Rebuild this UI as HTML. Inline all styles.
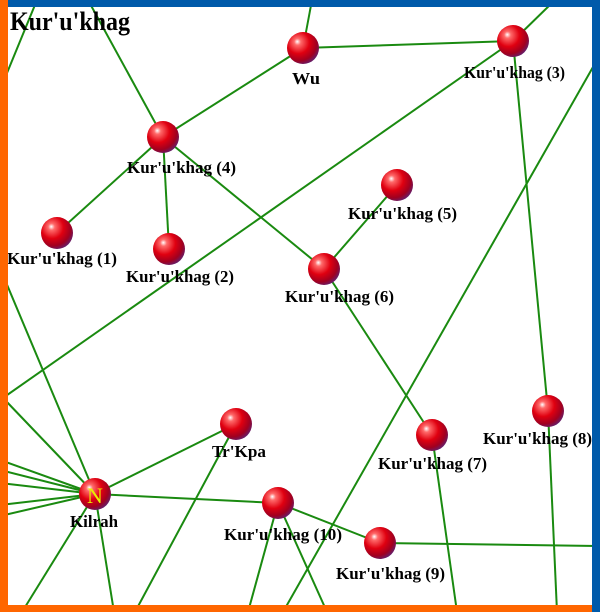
<!DOCTYPE html>
<html><head><meta charset="utf-8"><style>
html,body{margin:0;padding:0;background:#fff}
svg{display:block}
text{font-family:"Liberation Serif",serif;font-size:17px;font-weight:600;fill:#000}
</style></head><body>
<svg width="600" height="612" viewBox="0 0 600 612" xmlns="http://www.w3.org/2000/svg">
<defs>
<radialGradient id="b" cx="0.38" cy="0.35" r="0.7" fx="0.32" fy="0.3">
<stop offset="0" stop-color="#ffffff"/>
<stop offset="0.15" stop-color="#ff6a6a"/>
<stop offset="0.5" stop-color="#e00010"/>
<stop offset="0.8" stop-color="#a00020"/>
<stop offset="1" stop-color="#602070"/>
</radialGradient>
</defs>
<rect width="600" height="612" fill="#fff"/>
<g stroke="#1a8a10" stroke-width="2" fill="none">
<line x1="0" y1="90" x2="37" y2="0"/>
<line x1="88" y1="0" x2="163" y2="137"/>
<line x1="163" y1="137" x2="303" y2="48"/>
<line x1="303" y1="48" x2="513" y2="41"/>
<line x1="303" y1="48" x2="312" y2="0"/>
<line x1="513" y1="41" x2="555" y2="0"/>
<line x1="513" y1="41" x2="548" y2="411"/>
<line x1="0" y1="400" x2="513" y2="41"/>
<line x1="597" y1="60" x2="283" y2="612"/>
<line x1="163" y1="137" x2="57" y2="233"/>
<line x1="163" y1="137" x2="169" y2="249"/>
<line x1="163" y1="137" x2="324" y2="269"/>
<line x1="397" y1="185" x2="324" y2="269"/>
<line x1="324" y1="269" x2="432" y2="435"/>
<line x1="432" y1="435" x2="457" y2="612"/>
<line x1="548" y1="411" x2="557" y2="612"/>
<line x1="0" y1="268" x2="95" y2="494"/>
<line x1="5" y1="400" x2="95" y2="494"/>
<line x1="0" y1="460" x2="95" y2="494"/>
<line x1="0" y1="470" x2="95" y2="494"/>
<line x1="0" y1="483" x2="95" y2="494"/>
<line x1="0" y1="505" x2="95" y2="494"/>
<line x1="0" y1="516" x2="95" y2="494"/>
<line x1="95" y1="494" x2="236" y2="424"/>
<line x1="95" y1="494" x2="278" y2="503"/>
<line x1="95" y1="494" x2="22" y2="612"/>
<line x1="95" y1="494" x2="114" y2="612"/>
<line x1="236" y1="424" x2="135" y2="612"/>
<line x1="278" y1="503" x2="380" y2="543"/>
<line x1="278" y1="503" x2="248" y2="612"/>
<line x1="278" y1="503" x2="327" y2="612"/>
<line x1="380" y1="543" x2="597" y2="546"/>
</g>
<g fill="url(#b)">
<circle cx="303" cy="48" r="16"/>
<circle cx="513" cy="41" r="16"/>
<circle cx="163" cy="137" r="16"/>
<circle cx="57" cy="233" r="16"/>
<circle cx="169" cy="249" r="16"/>
<circle cx="397" cy="185" r="16"/>
<circle cx="324" cy="269" r="16"/>
<circle cx="236" cy="424" r="16"/>
<circle cx="432" cy="435" r="16"/>
<circle cx="548" cy="411" r="16"/>
<circle cx="95" cy="494" r="16"/>
<circle cx="278" cy="503" r="16"/>
<circle cx="380" cy="543" r="16"/>
</g>
<text x="95" y="503" text-anchor="middle" style="font-size:22px;font-weight:normal;fill:#e8f000">N</text>
<text x="292" y="84" textLength="28" lengthAdjust="spacingAndGlyphs">Wu</text>
<text x="464" y="78" textLength="101" lengthAdjust="spacingAndGlyphs">Kur'u'khag (3)</text>
<text x="127" y="173" textLength="109" lengthAdjust="spacingAndGlyphs">Kur'u'khag (4)</text>
<text x="7" y="264" textLength="110" lengthAdjust="spacingAndGlyphs">Kur'u'khag (1)</text>
<text x="126" y="282" textLength="108" lengthAdjust="spacingAndGlyphs">Kur'u'khag (2)</text>
<text x="348" y="219" textLength="109" lengthAdjust="spacingAndGlyphs">Kur'u'khag (5)</text>
<text x="285" y="302" textLength="109" lengthAdjust="spacingAndGlyphs">Kur'u'khag (6)</text>
<text x="212" y="457" textLength="54" lengthAdjust="spacingAndGlyphs">Tr'Kpa</text>
<text x="378" y="469" textLength="109" lengthAdjust="spacingAndGlyphs">Kur'u'khag (7)</text>
<text x="483" y="444" textLength="109" lengthAdjust="spacingAndGlyphs">Kur'u'khag (8)</text>
<text x="70" y="527" textLength="48" lengthAdjust="spacingAndGlyphs">Kilrah</text>
<text x="224" y="540" textLength="118" lengthAdjust="spacingAndGlyphs">Kur'u'khag (10)</text>
<text x="336" y="579" textLength="109" lengthAdjust="spacingAndGlyphs">Kur'u'khag (9)</text>
<rect x="0" y="0" width="600" height="7" fill="#005aaa"/>
<rect x="592" y="0" width="8" height="612" fill="#005aaa"/>
<rect x="0" y="0" width="8" height="612" fill="#ff6600"/>
<rect x="0" y="605" width="592" height="7" fill="#ff6600"/>
<text x="10" y="30" textLength="120" lengthAdjust="spacingAndGlyphs" style="font-size:26px">Kur'u'khag</text>
</svg>
</body></html>
